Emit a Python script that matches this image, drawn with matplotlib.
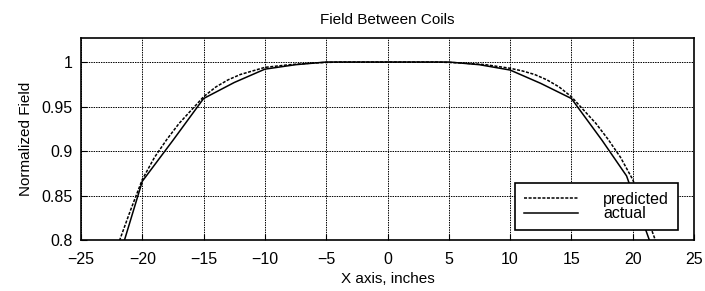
import matplotlib.pyplot as plt

plt.rcParams['font.family'] = ['Liberation Sans', 'DejaVu Sans']

x_actual = [-22.0, -20, -17.5, -15, -12.5, -10, -7.5, -5, 0, 5, 7.5, 10, 12.5, 15, 17.5, 19.5, 22.0]
y_actual = [0.775, 0.866, 0.912, 0.959, 0.977, 0.992, 0.997, 1.0, 1.0, 1.0, 0.997, 0.991, 0.976, 0.959, 0.912, 0.872, 0.775]

# Predicted field
x_pred = [-22.5, -21, -20, -19, -18, -17, -16, -15, -14, -13, -12, -11, -10, -8, -6, -4, 0,
          4, 6, 8, 10, 11, 12, 13, 14, 15, 16, 17, 18, 19, 20, 21, 22.5]
y_pred = [0.775, 0.832, 0.868, 0.893, 0.913, 0.931, 0.946, 0.961, 0.972, 0.980, 0.986, 0.990, 0.994, 0.997, 0.999, 1.0, 1.0,
          1.0, 0.999, 0.997, 0.993, 0.990, 0.986, 0.980, 0.972, 0.961, 0.946, 0.931, 0.913, 0.893, 0.868, 0.832, 0.775]

fig = plt.figure(figsize=(7.05, 2.91), dpi=100)
ax = fig.add_axes([81 / 705, 1 - 240 / 291, 613 / 705, 202 / 291])

ax.plot(x_pred, y_pred, color='black', linestyle=(0, (2, 1)), linewidth=1.1, label='predicted')
ax.plot(x_actual, y_actual, color='black', linestyle='-', linewidth=1.1, label='actual')

ax.set_xlim(-25, 25)
ax.set_ylim(0.8, 1.027)
ax.set_xticks(range(-25, 30, 5))
ax.set_yticks([0.8, 0.85, 0.9, 0.95, 1])
ax.set_yticklabels(['0.8', '0.85', '0.9', '0.95', '1'])
ax.tick_params(direction='in', labelsize=11.5, length=4, color='black')
ax.tick_params(axis='x', pad=9)
ax.tick_params(axis='y', pad=6)
ax.grid(True, color='black', linestyle=(0, (1.5, 1)), linewidth=0.7)
for s in ax.spines.values():
    s.set_linewidth(1.2)

ax.set_title('Field Between Coils', fontsize=11, pad=10)
ax.set_xlabel('X axis, inches', fontsize=11, labelpad=3)
ax.set_ylabel('Normalized Field', fontsize=11, labelpad=6)

leg = ax.legend(loc='lower right', bbox_to_anchor=(0.974, 0.05), borderaxespad=0, fontsize=11.5,
                frameon=True, fancybox=False, edgecolor='black', framealpha=1, handlelength=3.4,
                labelspacing=-0.05, borderpad=0.55, handletextpad=1.6)
leg.get_frame().set_linewidth(1.2)

fig.savefig('out.png', dpi=100)
